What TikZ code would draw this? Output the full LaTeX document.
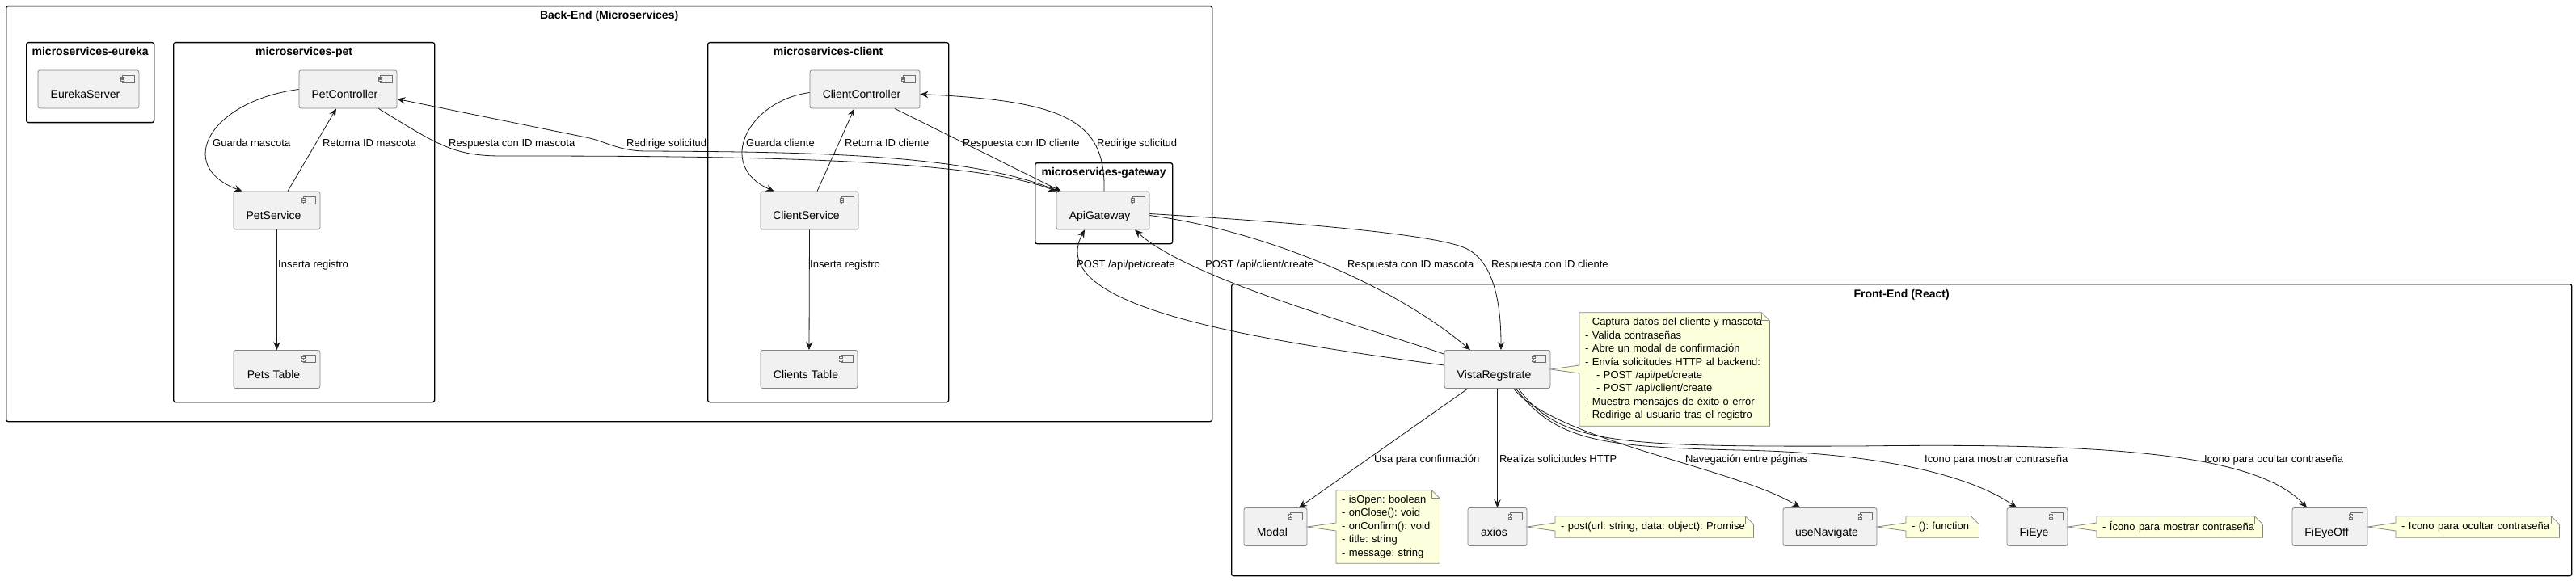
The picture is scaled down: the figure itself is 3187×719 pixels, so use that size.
\documentclass[tikz,border=0pt]{standalone}
\usepackage{fontspec}
\setmainfont{Liberation Sans}
\usetikzlibrary{arrows.meta,backgrounds}
\definecolor{compfill}{HTML}{F1F1F1}
\definecolor{compline}{HTML}{858585}
\definecolor{icongray}{HTML}{6E6E6E}
\definecolor{notefill}{HTML}{FEFFDD}
\definecolor{noteline}{HTML}{858585}
\definecolor{edge}{HTML}{181818}

\begin{document}
\frenchspacing
\begin{tikzpicture}[x=1pt,y=-1pt,>={Stealth[length=10pt,width=8.5pt,inset=3.5pt]}]
  \tikzstyle{pkg}=[draw=black,line width=1.3pt,rounded corners=2.5pt,anchor=north west]
  \tikzstyle{pkgttl}=[anchor=base,inner sep=0pt,font=\bfseries\fontsize{14}{16}\selectfont]
  \tikzstyle{icon}=[draw=icongray,fill=compfill,line width=0.6pt,sharp corners]
  \tikzstyle{comp}=[draw=compline,fill=compfill,line width=0.8pt,rounded corners=2.5pt,
    minimum height=47pt,text height=25pt,text depth=2pt,font=\fontsize{14}{16}\selectfont,
    execute at end node={\hspace*{8pt}},
    path picture={
      \draw[icon] ([shift={(-21,6)}]path picture bounding box.north east) rectangle ([shift={(-6,15)}]path picture bounding box.north east);
      \draw[icon] ([shift={(-23,8)}]path picture bounding box.north east) rectangle ([shift={(-19,10)}]path picture bounding box.north east);
      \draw[icon] ([shift={(-23,11.5)}]path picture bounding box.north east) rectangle ([shift={(-19,13.5)}]path picture bounding box.north east);
    }]
  \tikzstyle{note}=[anchor=west,align=left,inner xsep=7pt,inner ysep=0pt,font=\fontsize{13}{16.4}\selectfont\frenchspacing]
  \tikzstyle{notebg}=[fill=notefill,draw=noteline,line width=0.8pt]
  \tikzstyle{link}=[draw=edge,line width=0.8pt,->]
  \tikzstyle{lbl}=[anchor=base west,inner sep=0pt,font=\fontsize{13}{15}\selectfont]

  \begin{scope}[on background layer]
    \fill[white] (0,0) rectangle (3187,719);
  \end{scope}
  \useasboundingbox (0,0) rectangle (3187,719);

  % paquetes
  \node[pkg,minimum width=1492pt,minimum height=514pt] (backend) at (7,7) {};
  \node[pkg,minimum width=158pt,minimum height=99pt] (eurekapkg) at (32,52) {};
  \node[pkg,minimum width=323pt,minimum height=445pt] (petpkg) at (214,52) {};
  \node[pkg,minimum width=298pt,minimum height=445pt] (clientpkg) at (875,52) {};
  \node[pkg,minimum width=170pt,minimum height=100pt] (gatewaypkg) at (1280,201) {};
  \node[pkg,minimum width=1658pt,minimum height=361pt] (frontend) at (1523,351) {};
  \node[pkgttl] (backendttl) at ([yshift=-17pt]backend.north) {Back-End (Microservices)};
  \node[pkgttl] (eurekattl) at ([yshift=-17pt]eurekapkg.north) {microservices-eureka};
  \node[pkgttl] (petttl) at ([yshift=-17pt]petpkg.north) {microservices-pet};
  \node[pkgttl] (clientttl) at ([yshift=-17pt]clientpkg.north) {microservices-client};
  \node[pkgttl] (gatewayttl) at ([yshift=-17pt]gatewaypkg.north) {microservices-gateway};
  \node[pkgttl] (frontendttl) at ([yshift=-17pt]frontend.north) {Front-End (React)};

  % componentes
  \foreach \n/\x/\y/\w/\txt in {eureka/109.5/110.5/125/EurekaServer,
      petctl/430.5/110.5/121/PetController, petsvc/342.5/260.5/107/PetService,
      petdb/342.5/457/107/Pets Table, clictl/1070/110.5/136/ClientController,
      clisvc/1001.5/260.5/121/ClientService, clidb/1001/457/120/Clients Table,
      gateway/1364.5/260.5/115/ApiGateway, vista/1852.5/457/131/VistaRegstrate,
      modal/1578/652/78/Modal, axios/1852.5/652/73/axios,
      usenav/2264/652/116/useNavigate, fieye/2520.5/652/75/FiEye,
      fieyeoff/2882.5/652/93/FiEyeOff} {
    \node[comp,minimum width=\w pt] (\n) at (\x,\y) {\txt};
  }

  % notas
  \node[note,text width=221pt,minimum height=140pt] (vistanote) at (1954,457)
    {- Captura datos del cliente y mascota\\- Valida contraseñas\\- Abre un modal de confirmación\\- Envía solicitudes HTTP al backend:\\\hspace*{14pt}- POST /api/pet/create\\\hspace*{14pt}- POST /api/client/create\\- Muestra mensajes de éxito o error\\- Redirige al usuario tras el registro};
  \node[note,text width=114pt,minimum height=90pt] (modalnote) at (1653,652)
    {- isOpen: boolean\\- onClose(): void\\- onConfirm(): void\\- title: string\\- message: string};
  \node[note,text width=231pt,minimum height=26pt] (axiosnote) at (1924,652) {- post(url: string, data: object): Promise};
  \node[note,text width=76pt,minimum height=26pt] (navnote) at (2358,652) {- (): function};
  \node[note,text width=191pt,minimum height=26pt] (eyenote) at (2594,652) {- Ícono para mostrar contraseña};
  \node[note,text width=188pt,minimum height=26pt] (eyeoffnote) at (2964,652) {- Icono para ocultar contraseña};
  \begin{scope}[on background layer]
    \foreach \n in {vistanote,modalnote,axiosnote,navnote,eyenote,eyeoffnote} {
      \filldraw[notebg] (\n.north west) -- ([xshift=-10pt]\n.north east) -- ([yshift=-10pt]\n.north east)
        -- (\n.south east) -- (\n.south west) -- cycle;
      \draw[notebg,fill=none] ([xshift=-10pt]\n.north east) |- ([yshift=-10pt]\n.north east);
    }
  \end{scope}
  \foreach \c/\n in {vista/vistanote,modal/modalnote,axios/axiosnote,usenav/navnote,fieye/eyenote,fieyeoff/eyeoffnote} {
    \fill[notefill] (\c.east) -- ([shift={(0.8,-5)}]\n.west) -- ([shift={(0.8,5)}]\n.west) -- cycle;
    \draw[noteline,line width=0.8pt] ([yshift=5pt]\n.west) -- (\c.east) -- ([yshift=-5pt]\n.west);
  }

  % microservices-pet
  \draw[link] (petctl.west) .. controls (260,125) and (215,205) .. ([xshift=11pt]petsvc.north west);
  \draw[link] ([xshift=13.5pt]petsvc.north) -- ([xshift=-14.5pt]petctl.south);
  \draw[link] (petsvc.south) -- (petdb.north);
  \draw[link] ([xshift=-23pt]petctl.south east) .. controls (540,178) and (560,193) .. (620,193)
    .. controls (900,193) and (1200,195) .. (gateway.north west);
  \draw[link] ([xshift=3pt]gateway.north west) .. controls (1200,190) and (1000,188) .. (800,187)
    .. controls (765,187) and (750,175) .. (725,170) -- ([yshift=-12pt]petctl.east);

  % microservices-client
  \draw[link] ([yshift=-4pt]clictl.west) .. controls (925,125) and (885,205) .. ([xshift=17pt]clisvc.north west);
  \draw[link] ([xshift=9.5pt]clisvc.north) -- ([xshift=-13pt]clictl.south);
  \draw[link] (clisvc.south) -- (clidb.north);
  \draw[link] ([xshift=37pt]clictl.south) -- ([xshift=6pt]gateway.north west);
  \draw[link] ([xshift=1.5pt]gateway.north) .. controls (1368,150) and (1320,125) .. ([yshift=-6pt]clictl.east);

  % gateway <-> front-end
  \draw[link] ([yshift=5pt]vista.west) .. controls (1550,420) and (1290,380) .. ([xshift=-22.5pt]gateway.south);
  \draw[link] ([yshift=-5pt]vista.north west) .. controls (1690,405) and (1470,345) .. ([xshift=39.5pt]gateway.south);
  \draw[link] ([yshift=-6pt]gateway.east) .. controls (1560,285) and (1720,350) .. ([xshift=-33.5pt]vista.north);
  \draw[link] ([yshift=-4pt]gateway.east) .. controls (1600,275) and (1780,290) .. (1815,308)
    .. controls (1850,326) and (1857,380) .. ([xshift=4.5pt]vista.north);

  % front-end
  \draw[link] ([xshift=-36.5pt]vista.south) -- ([xshift=29pt]modal.north);
  \draw[link] (vista.south) -- (axios.north);
  \draw[link] ([xshift=20pt]vista.south) .. controls (1925,545) and (2150,580) .. ([xshift=-37pt]usenav.north);
  \draw[link] ([xshift=23pt]vista.south) .. controls (1925,548) and (1990,553) .. (2150,557)
    .. controls (2330,560) and (2440,590) .. ([xshift=-25.5pt]fieye.north);
  \draw[link] ([xshift=26pt]vista.south) .. controls (1930,550) and (2000,553) .. (2300,552)
    .. controls (2600,548) and (2790,560) .. ([xshift=-28.5pt]fieyeoff.north);

  % etiquetas
  \foreach \x/\txt in {263/Guarda mascota,399/Retorna ID mascota,555/Respuesta con ID mascota,
      775/Redirige solicitud,923/Guarda cliente,1045/Retorna ID cliente,
      1191/Respuesta con ID cliente,1357/Redirige solicitud} {
    \node[lbl] (la\x) at (\x,181.5) {\txt};
  }
  \foreach \x/\txt in {344/Inserta registro,1002/Inserta registro,
      1667/Respuesta con ID mascota,1845/Respuesta con ID cliente} {
    \node[lbl] (lb\x) at (\x,331.5) {\txt};
  }
  \node[lbl] (lbpet) at (1332,331.5) {POST /api/pet/create};
  \node[lbl] (lbclient) at (1491,331.5) {POST /api/client/create};
  \foreach \x/\txt in {1700/Usa para confirmación,1855/Realiza solicitudes HTTP,
      2085/Navegación entre páginas,2381/Icono para mostrar contraseña,
      2727/Icono para ocultar contraseña} {
    \node[lbl] (lc\x) at (\x,572.5) {\txt};
  }
\end{tikzpicture}
\end{document}
